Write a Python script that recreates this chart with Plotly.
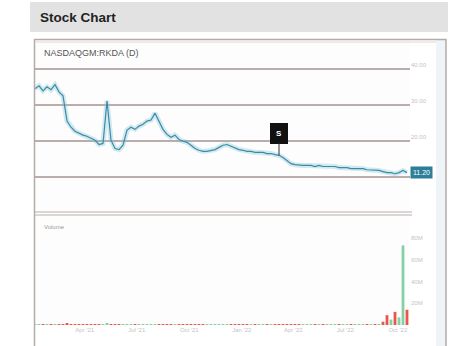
import plotly.graph_objects as go
import pandas as pd

W, H = 459, 346

# ---- data ----
title_text = "Stock Chart"
symbol_label = "NASDAQGM:RKDA (D)"
volume_label = "Volume"
event_label = "S"

prices = [34.5, 35.3, 33.9, 35.0, 34.2, 35.6, 33.6, 32.5, 25.5, 23.8,
          22.7, 22.1, 21.6, 21.3, 20.7, 20.2, 19.0, 19.3, 31.1, 20.2,
          17.9, 17.6, 18.8, 23.0, 23.8, 23.2, 24.1, 24.6, 25.5, 25.8,
          27.7, 25.5, 23.2, 21.8, 21.0, 21.6, 20.4, 19.9, 19.6, 18.8,
          17.9, 17.4, 17.1, 17.1, 17.4, 17.6, 18.2, 18.8, 19.0, 18.5,
          18.2, 17.6, 17.4, 17.1, 17.1, 16.8, 16.8, 16.8, 16.5, 16.5,
          16.2, 16.0, 15.4, 14.6, 13.7, 13.4, 13.2, 13.2, 13.2, 13.2,
          12.9, 13.2, 12.9, 12.9, 12.9, 12.9, 12.6, 12.6, 12.6, 12.3,
          12.3, 12.3, 12.3, 12.0, 12.0, 11.8, 11.8, 11.5, 11.2, 11.2,
          10.9, 11.2, 11.8, 11.2]

volumes = [0.6, 0.5, 0.5, 0.4, 0.5, 0.4, 0.5, 0.6, 1.0, 0.7,
           0.5, 0.4, 0.3, 0.3, 0.3, 0.3, 0.3, 0.3, 1.1, 0.5,
           0.4, 0.3, 0.3, 0.5, 0.4, 0.4, 0.4, 0.4, 0.5, 0.5,
           0.6, 0.5, 0.4, 0.3, 0.3, 0.3, 0.3, 0.2, 0.2, 0.2,
           0.2, 0.2, 0.2, 0.2, 0.2, 0.2, 0.2, 0.2, 0.2, 0.2,
           0.2, 0.2, 0.2, 0.2, 0.2, 0.2, 0.2, 0.2, 0.2, 0.2,
           0.2, 0.2, 0.3, 0.4, 0.5, 0.3, 0.2, 0.2, 0.2, 0.2,
           0.2, 0.2, 0.2, 0.2, 0.2, 0.2, 0.2, 0.2, 0.2, 0.2,
           0.2, 0.2, 0.2, 0.2, 0.3, 0.3, 0.4, 3.0, 9.0, 5.0,
           12.0, 7.0, 73.0, 14.0]

price_ticks = [10, 20, 30, 40]
price_tick_text = ["", "20.00", "30.00", "40.00"]
volume_ticks = [20, 40, 60, 80]
volume_tick_text = ["20M", "40M", "60M", "80M"]

dates = pd.date_range("2021-01-04", periods=len(prices), freq="W-MON")

# ---- styles ----
LINE = "#3a8ca6"
GRID = "#b9aeab"
FAINT = "#c4c4c4"

def px(x):
    return x / W

def py(y):
    return 1 - y / H

colors = []
for i, v in enumerate(prices):
    if i == 0 or v >= prices[i - 1]:
        colors.append("#86cfa6")
    else:
        colors.append("#e8564b")

fig = go.Figure()

fig.add_trace(go.Scatter(x=dates, y=prices, mode="lines",
                         line=dict(color="rgba(130,195,215,0.35)", width=5),
                         hoverinfo="skip", showlegend=False,
                         xaxis="x", yaxis="y"))
fig.add_trace(go.Scatter(x=dates, y=prices, mode="lines",
                         line=dict(color=LINE, width=1.2),
                         showlegend=False, xaxis="x", yaxis="y"))

fig.add_trace(go.Bar(x=dates, y=volumes, marker=dict(color=colors, line=dict(width=0)),
                     showlegend=False, xaxis="x2", yaxis="y2"))

x_start = dates[0]
x_end = dates[-1] + (dates[1] - dates[0]) * 0.75

fig.update_layout(
    width=W, height=H,
    margin=dict(l=0, r=0, t=0, b=0),
    paper_bgcolor="white",
    plot_bgcolor="#fdfdfd",
    bargap=0.3,
    xaxis=dict(domain=[px(35), px(410)], anchor="y", range=[x_start, x_end],
               showticklabels=False, showgrid=False, zeroline=False),
    yaxis=dict(domain=[py(213), py(40)], anchor="x", range=[0, 48],
               tickvals=price_ticks, ticktext=price_tick_text, side="right",
               ticklabelposition="outside top",
               showgrid=True, gridcolor=GRID, gridwidth=1.5, zeroline=False,
               tickfont=dict(size=6, color=FAINT, family="Arial")),
    xaxis2=dict(domain=[px(35), px(410)], anchor="y2", range=[x_start, x_end],
                showgrid=False, zeroline=False, showticklabels=True,
                tickformat="%b '%y", dtick="M3",
                tickfont=dict(size=6, color=FAINT, family="Arial")),
    yaxis2=dict(domain=[py(325), py(216)], anchor="x2", range=[0, 100],
                tickvals=volume_ticks, ticktext=volume_tick_text, side="right",
                showgrid=False, zeroline=False,
                tickfont=dict(size=6, color=FAINT, family="Arial")),
)

shapes = []
shapes.append(dict(type="rect", xref="paper", yref="paper",
                   x0=px(30), x1=px(448), y0=py(32), y1=py(2),
                   fillcolor="#e2e2e2", line=dict(width=0), layer="below"))
shapes.append(dict(type="rect", xref="paper", yref="paper",
                   x0=px(436), x1=px(446), y0=py(346), y1=py(40),
                   fillcolor="#eef4f8", line=dict(width=0), layer="below"))
shapes.append(dict(type="rect", xref="paper", yref="paper",
                   x0=px(34.5), x1=px(446), y0=py(350), y1=py(39.5),
                   line=dict(color="#b5aba8", width=1.5)))
shapes.append(dict(type="line", xref="paper", yref="paper",
                   x0=px(35), x1=px(436), y0=py(42), y1=py(42),
                   line=dict(color="#ddd6d4", width=1)))
for yy in (212, 215):
    shapes.append(dict(type="line", xref="paper", yref="paper",
                       x0=px(35), x1=px(412), y0=py(yy), y1=py(yy),
                       line=dict(color=GRID, width=1.2)))
fig.update_layout(shapes=shapes)

event_idx = 61
annotations = [
    dict(text="<b>" + title_text + "</b>", xref="paper", yref="paper",
         x=px(38), y=py(17), xanchor="left", yanchor="middle", showarrow=False,
         font=dict(family="Arial", size=13.5, color="#222222")),
    dict(text=symbol_label, xref="paper", yref="paper",
         x=px(42), y=py(53), xanchor="left", yanchor="middle", showarrow=False,
         font=dict(family="Arial", size=9, color="#555555")),
    dict(text=volume_label, xref="paper", yref="paper",
         x=px(42), y=py(227), xanchor="left", yanchor="middle", showarrow=False,
         font=dict(family="Arial", size=6, color="#999999")),
    dict(text="<b>" + event_label + "</b>", xref="x", yref="y",
         x=dates[event_idx], y=prices[event_idx], ax=0, ay=-22,
         showarrow=True, arrowhead=0, arrowwidth=1, arrowcolor="#333333",
         bgcolor="#111111", bordercolor="#111111", borderpad=5,
         font=dict(family="Arial", size=8, color="white")),
    dict(text="%.2f" % prices[-1], xref="paper", yref="y",
         x=px(410), y=prices[-1], xanchor="left", yanchor="middle",
         showarrow=False, bgcolor="#2d7f99", borderpad=2,
         font=dict(family="Arial", size=7, color="white")),
]
fig.update_layout(annotations=annotations)

fig.write_html("out.html", config={"displayModeBar": False},
               post_script="document.body.style.margin='0';")
